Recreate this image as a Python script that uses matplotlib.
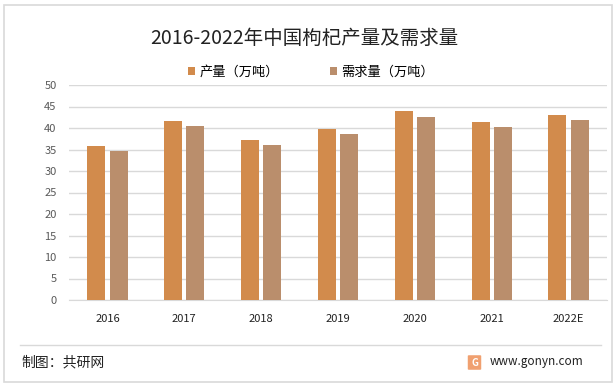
import matplotlib.pyplot as plt
import numpy as np
from matplotlib.patches import Rectangle, FancyBboxPatch

plt.rcParams['font.family'] = ['Noto Sans CJK SC', 'DejaVu Sans']

years = ["2016", "2017", "2018", "2019", "2020", "2021", "2022E"]
production = [35.8, 41.6, 37.2, 39.8, 43.9, 41.4, 43.0]
demand = [34.7, 40.5, 36.0, 38.6, 42.6, 40.2, 41.9]
series_names = ["产量（万吨）", "需求量（万吨）"]

W, H = 616, 386
fig = plt.figure(figsize=(W / 100, H / 100), dpi=100)

# outer frame
fig.patches.append(Rectangle((4 / W, 4 / H), 608 / W, 377 / H, transform=fig.transFigure,
                             fill=False, edgecolor="#d9d9d9", linewidth=1.2))

ax = fig.add_axes([69 / W, 1 - 300 / H, 538 / W, 215 / H])
x = np.arange(len(years))
bw = 0.235
ax.bar(x - 0.145, production, bw, color="#d28b4c", label=series_names[0], zorder=3)
ax.bar(x + 0.145, demand, bw, color="#ba8e6c", label=series_names[1], zorder=3)

ax.set_xlim(-0.5, len(years) - 0.5)
ax.set_ylim(0, 50)
ax.set_yticks(range(0, 51, 5))
ax.set_xticks(x)
ax.set_xticklabels(years)
ax.grid(axis="y", color="#d9d9d9", linewidth=1, zorder=0)
for s in ["top", "right", "left"]:
    ax.spines[s].set_visible(False)
ax.spines["bottom"].set_color("#d9d9d9")
ax.tick_params(axis="y", length=0, labelsize=8, labelcolor="#595959", pad=9)
ax.tick_params(axis="x", length=0, labelsize=8, labelcolor="#222222", pad=10)

fig.text(304 / W, 1 - 38 / H, "2016-2022年中国枸杞产量及需求量", ha="center", va="center",
         fontsize=14, color="#222222")

fig.legend(loc="center", bbox_to_anchor=(311 / W, 1 - 72 / H), ncol=2, frameon=False,
           fontsize=9.5, handlelength=0.5, handleheight=0.5, columnspacing=3.9,
           handletextpad=0.35)

# footer
fig.add_artist(plt.Line2D([20 / W, 601 / W], [1 - 345 / H, 1 - 345 / H], transform=fig.transFigure,
                          color="#d9d9d9", linewidth=1))
fig.text(21 / W, 1 - 362 / H, "制图：共研网", ha="left", va="center", fontsize=10, color="#222222")
fig.patches.append(FancyBboxPatch((469 / W, 1 - 369 / H), 11 / W, 13 / H, transform=fig.transFigure,
                                  boxstyle="round,pad=0.002", facecolor="#f0a070", edgecolor="none"))
fig.text(474.5 / W, 1 - 362.5 / H, "G", ha="center", va="center", fontsize=7, color="white",
         fontweight="bold")
fig.text(490 / W, 1 - 362 / H, "www.gonyn.com", ha="left", va="center", fontsize=8.5, color="#222222")

fig.savefig("out.png", dpi=100)
